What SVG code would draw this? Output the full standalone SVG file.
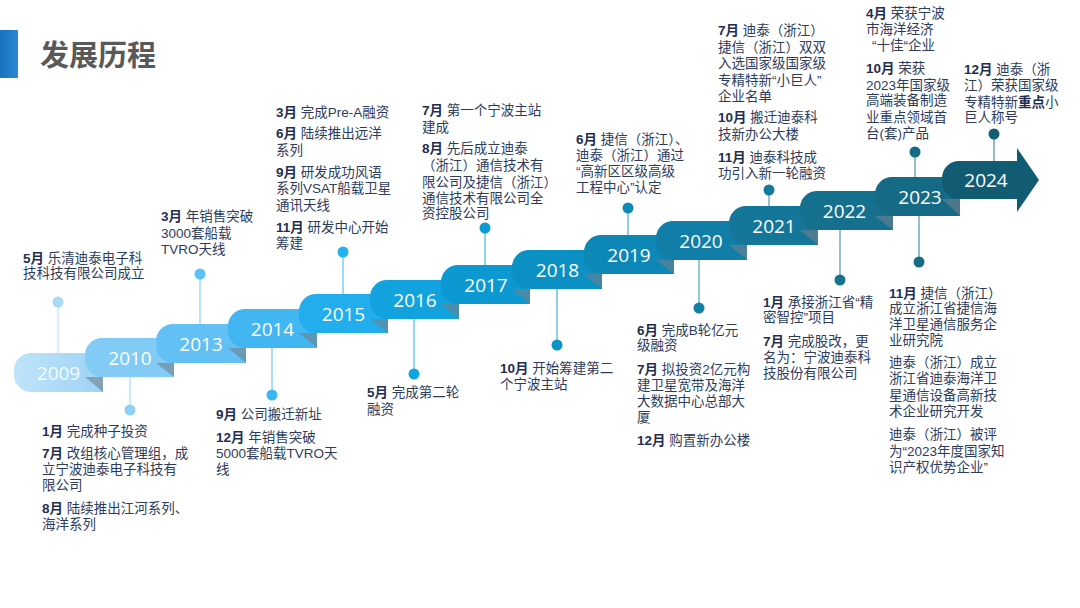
<svg xmlns="http://www.w3.org/2000/svg" width="1080" height="608" viewBox="0 0 1080 608">
<defs>
<style>
.t{font-family:"Liberation Sans","Noto Sans CJK SC",sans-serif;font-size:13.5px;fill:#2e3c5c}
.b{font-weight:bold;fill:#1f2e50}
.yr{font-family:"Open Sans","Noto Sans",sans-serif;font-size:19px;fill:#ffffff;text-anchor:middle}
.fold{fill:#6f818e;fill-opacity:0.6}
.ln{stroke-width:1.5;fill:none;stroke-opacity:0.6}
</style>
<linearGradient id="bar" x1="0" y1="0" x2="1" y2="0">
<stop offset="0" stop-color="#1a72bd"/>
<stop offset="1" stop-color="#2a8ad6"/>
</linearGradient>
<linearGradient id="g09" x1="0" y1="0" x2="1" y2="0">
<stop offset="0" stop-color="#bfe3f9"/>
<stop offset="1" stop-color="#9dd3f5"/>
</linearGradient>
</defs>
<rect width="1080" height="608" fill="#ffffff"/>
<g id="title">
<rect x="0" y="30" width="18" height="48" fill="url(#bar)"/>
<text x="40" y="66" font-family="Liberation Sans,'Noto Sans CJK SC',sans-serif" font-size="29" font-weight="bold" fill="#595959">发展历程</text>
</g>

<g id="connectors">
<line class="ln" x1="58" y1="302" x2="58" y2="353" stroke="#a9d9f7"/><circle cx="58" cy="302" r="5.5" fill="#a9d9f7"/>
<line class="ln" x1="130" y1="377" x2="130" y2="410" stroke="#8fd0f7"/><circle cx="130" cy="410" r="5.5" fill="#8fd0f7"/>
<line class="ln" x1="200" y1="274" x2="200" y2="324" stroke="#5cc1f6"/><circle cx="200" cy="274" r="5.5" fill="#5cc1f6"/>
<line class="ln" x1="272" y1="348" x2="272" y2="395" stroke="#3bb8f3"/><circle cx="272" cy="395" r="5.5" fill="#3bb8f3"/>
<line class="ln" x1="343" y1="252" x2="343" y2="294" stroke="#20b1ef"/><circle cx="343" cy="252" r="5.5" fill="#20b1ef"/>
<line class="ln" x1="414" y1="319" x2="414" y2="374" stroke="#12a6e1"/><circle cx="414" cy="374" r="5.5" fill="#12a6e1"/>
<line class="ln" x1="485" y1="228" x2="485" y2="265" stroke="#0c9cd4"/><circle cx="485" cy="228" r="5.5" fill="#0c9cd4"/>
<line class="ln" x1="557" y1="289" x2="557" y2="345" stroke="#0b93c6"/><circle cx="557" cy="345" r="5.5" fill="#0b93c6"/>
<line class="ln" x1="628" y1="208" x2="628" y2="235" stroke="#0d8ab8"/><circle cx="628" cy="208" r="5.5" fill="#0d8ab8"/>
<line class="ln" x1="699" y1="260" x2="699" y2="308" stroke="#1280a6"/><circle cx="699" cy="308" r="5.5" fill="#1280a6"/>
<line class="ln" x1="769" y1="190" x2="769" y2="206" stroke="#15799a"/><circle cx="769" cy="190" r="5.5" fill="#15799a"/>
<line class="ln" x1="840" y1="230" x2="840" y2="280" stroke="#16728f"/><circle cx="840" cy="280" r="5.5" fill="#16728f"/>
<line class="ln" x1="915" y1="152" x2="915" y2="177" stroke="#166c84"/><circle cx="915" cy="152" r="5.5" fill="#166c84"/>
<line class="ln" x1="919" y1="216" x2="919" y2="262" stroke="#166c84"/><circle cx="919" cy="262" r="5.5" fill="#166c84"/>
<line class="ln" x1="994" y1="134" x2="994" y2="161" stroke="#135e73"/><circle cx="994" cy="134" r="5.5" fill="#135e73"/>
</g>

<g id="y2009"><path d="M31,353H103V392H31A17,17 0 0 1 14,375V370A17,17 0 0 1 31,353Z" fill="url(#g09)"/><polygon class="fold" points="85,377 103,377 103,392"/><text class="yr" x="58.5" y="379.5" fill-opacity="0.9">2009</text></g>
<g id="y2010"><path d="M102,338H174V377H102A17,17 0 0 1 85,360V355A17,17 0 0 1 102,338Z" fill="#82cbf5"/><polygon class="fold" points="156,363 174,363 174,377"/><text class="yr" x="130" y="365">2010</text></g>
<g id="y2013"><path d="M173,324H246V363H173A17,17 0 0 1 156,346V341A17,17 0 0 1 173,324Z" fill="#63c0f4"/><polygon class="fold" points="228,348 246,348 246,363"/><text class="yr" x="201" y="350.5">2013</text></g>
<g id="y2014"><path d="M245,309H317V348H245A17,17 0 0 1 228,331V326A17,17 0 0 1 245,309Z" fill="#42b6f1"/><polygon class="fold" points="299,333 317,333 317,348"/><text class="yr" x="272.5" y="335.5">2014</text></g>
<g id="y2015"><path d="M316,294H388V333H316A17,17 0 0 1 299,316V311A17,17 0 0 1 316,294Z" fill="#22adec"/><polygon class="fold" points="370,319 388,319 388,333"/><text class="yr" x="343.5" y="320.5">2015</text></g>
<g id="y2016"><path d="M387,280H459V319H387A17,17 0 0 1 370,302V297A17,17 0 0 1 387,280Z" fill="#12a3df"/><polygon class="fold" points="441,304 459,304 459,319"/><text class="yr" x="415" y="306.5">2016</text></g>
<g id="y2017"><path d="M458,265H530V304H458A17,17 0 0 1 441,287V282A17,17 0 0 1 458,265Z" fill="#0c99d1"/><polygon class="fold" points="512,289 530,289 530,304"/><text class="yr" x="486" y="291.5">2017</text></g>
<g id="y2018"><path d="M529,250H602V289H529A17,17 0 0 1 512,272V267A17,17 0 0 1 529,250Z" fill="#0b90c3"/><polygon class="fold" points="584,274 602,274 602,289"/><text class="yr" x="557.5" y="276.5">2018</text></g>
<g id="y2019"><path d="M601,235H674V274H601A17,17 0 0 1 584,257V252A17,17 0 0 1 601,235Z" fill="#0d87b5"/><polygon class="fold" points="656,260 674,260 674,274"/><text class="yr" x="629" y="261.5">2019</text></g>
<g id="y2020"><path d="M673,221H747V260H673A17,17 0 0 1 656,243V238A17,17 0 0 1 673,221Z" fill="#107ea6"/><polygon class="fold" points="729,245 747,245 747,260"/><text class="yr" x="701" y="247.5">2020</text></g>
<g id="y2021"><path d="M746,206H818V245H746A17,17 0 0 1 729,228V223A17,17 0 0 1 746,206Z" fill="#14779a"/><polygon class="fold" points="800,230 818,230 818,245"/><text class="yr" x="774" y="232.5">2021</text></g>
<g id="y2022"><path d="M817,191H893V230H817A17,17 0 0 1 800,213V208A17,17 0 0 1 817,191Z" fill="#15708e"/><polygon class="fold" points="875,216 893,216 893,230"/><text class="yr" x="844.5" y="217.5">2022</text></g>
<g id="y2023"><path d="M892,177H960V216H892A17,17 0 0 1 875,199V194A17,17 0 0 1 892,177Z" fill="#156a85"/><polygon class="fold" points="942,199 960,199 960,216"/><text class="yr" x="920" y="203.5">2023</text></g>
<g id="y2024"><path d="M959,161H1017V148L1039,180L1017,212V199H959A17,17 0 0 1 942,182V178A17,17 0 0 1 959,161Z" fill="#125c73"/><text class="yr" x="986" y="187">2024</text></g>

<g id="e2009">
<text class="t" x="23" y="263"><tspan class="b">5月</tspan> 乐清迪泰电子科</text>
<text class="t" x="23" y="278">技科技有限公司成立</text>
</g>
<g id="e2010">
<text class="t" x="42" y="436"><tspan class="b">1月</tspan> 完成种子投资</text>
<text class="t" x="42" y="458"><tspan class="b">7月</tspan> 改组核心管理组，成</text>
<text class="t" x="42" y="474">立宁波迪泰电子科技有</text>
<text class="t" x="42" y="490">限公司</text>
<text class="t" x="42" y="513"><tspan class="b">8月</tspan> 陆续推出江河系列、</text>
<text class="t" x="42" y="529">海洋系列</text>
</g>
<g id="e2013">
<text class="t" x="161" y="221"><tspan class="b">3月</tspan> 年销售突破</text>
<text class="t" x="161" y="238">3000套船载</text>
<text class="t" x="161" y="254">TVRO天线</text>
</g>
<g id="e2014">
<text class="t" x="216" y="419"><tspan class="b">9月</tspan> 公司搬迁新址</text>
<text class="t" x="216" y="442"><tspan class="b">12月</tspan> 年销售突破</text>
<text class="t" x="216" y="458">5000套船载TVRO天</text>
<text class="t" x="216" y="474">线</text>
</g>
<g id="e2015">
<text class="t" x="276" y="117"><tspan class="b">3月</tspan> 完成Pre-A融资</text>
<text class="t" x="276" y="138"><tspan class="b">6月</tspan> 陆续推出远洋</text>
<text class="t" x="276" y="155">系列</text>
<text class="t" x="276" y="177"><tspan class="b">9月</tspan> 研发成功风语</text>
<text class="t" x="276" y="193">系列VSAT船载卫星</text>
<text class="t" x="276" y="210">通讯天线</text>
<text class="t" x="276" y="232"><tspan class="b">11月</tspan> 研发中心开始</text>
<text class="t" x="276" y="248">筹建</text>
</g>
<g id="e2016">
<text class="t" x="367" y="397"><tspan class="b">5月</tspan> 完成第二轮</text>
<text class="t" x="367" y="414">融资</text>
</g>
<g id="e2017">
<text class="t" x="422" y="115"><tspan class="b">7月</tspan> 第一个宁波主站</text>
<text class="t" x="422" y="132">建成</text>
<text class="t" x="422" y="153"><tspan class="b">8月</tspan> 先后成立迪泰</text>
<text class="t" x="422" y="170">（浙江）通信技术有</text>
<text class="t" x="422" y="187">限公司及捷信（浙江）</text>
<text class="t" x="422" y="203">通信技术有限公司全</text>
<text class="t" x="422" y="218">资控股公司</text>
</g>
<g id="e2018">
<text class="t" x="500" y="373"><tspan class="b">10月</tspan> 开始筹建第二</text>
<text class="t" x="500" y="389">个宁波主站</text>
</g>
<g id="e2019">
<text class="t" x="576" y="144"><tspan class="b">6月</tspan> 捷信（浙江）、</text>
<text class="t" x="576" y="160">迪泰（浙江）通过</text>
<text class="t" x="576" y="176">“高新区区级高级</text>
<text class="t" x="576" y="192">工程中心”认定</text>
</g>
<g id="e2020">
<text class="t" x="637" y="335"><tspan class="b">6月</tspan> 完成B轮亿元</text>
<text class="t" x="637" y="350">级融资</text>
<text class="t" x="637" y="374"><tspan class="b">7月</tspan> 拟投资2亿元构</text>
<text class="t" x="637" y="390">建卫星宽带及海洋</text>
<text class="t" x="637" y="406">大数据中心总部大</text>
<text class="t" x="637" y="422">厦</text>
<text class="t" x="637" y="445"><tspan class="b">12月</tspan> 购置新办公楼</text>
</g>
<g id="e2021">
<text class="t" x="718" y="35"><tspan class="b">7月</tspan> 迪泰（浙江）</text>
<text class="t" x="718" y="52">捷信（浙江）双双</text>
<text class="t" x="718" y="68">入选国家级国家级</text>
<text class="t" x="718" y="85">专精特新“小巨人”</text>
<text class="t" x="718" y="101">企业名单</text>
<text class="t" x="718" y="122"><tspan class="b">10月</tspan> 搬迁迪泰科</text>
<text class="t" x="718" y="139">技新办公大楼</text>
<text class="t" x="718" y="162"><tspan class="b">11月</tspan> 迪泰科技成</text>
<text class="t" x="718" y="178">功引入新一轮融资</text>
</g>
<g id="e2022">
<text class="t" x="763" y="307"><tspan class="b">1月</tspan> 承接浙江省“精</text>
<text class="t" x="763" y="322">密智控”项目</text>
<text class="t" x="763" y="346"><tspan class="b">7月</tspan> 完成股改，更</text>
<text class="t" x="763" y="362">名为：宁波迪泰科</text>
<text class="t" x="763" y="378">技股份有限公司</text>
</g>
<g id="e2023a">
<text class="t" x="866" y="18"><tspan class="b">4月</tspan> 荣获宁波</text>
<text class="t" x="866" y="34">市海洋经济</text>
<text class="t" x="872" y="50">“十佳“企业</text>
<text class="t" x="866" y="73"><tspan class="b">10月</tspan> 荣获</text>
<text class="t" x="866" y="90">2023年国家级</text>
<text class="t" x="866" y="105">高端装备制造</text>
<text class="t" x="866" y="122">业重点领域首</text>
<text class="t" x="866" y="138">台(套)产品</text>
</g>
<g id="e2023b">
<text class="t" x="889" y="298"><tspan class="b">11月</tspan> 捷信（浙江）</text>
<text class="t" x="889" y="313">成立浙江省捷信海</text>
<text class="t" x="889" y="329">洋卫星通信服务企</text>
<text class="t" x="889" y="345">业研究院</text>
<text class="t" x="889" y="367">迪泰（浙江）成立</text>
<text class="t" x="889" y="383">浙江省迪泰海洋卫</text>
<text class="t" x="889" y="400">星通信设备高新技</text>
<text class="t" x="889" y="416">术企业研究开发</text>
<text class="t" x="889" y="439">迪泰（浙江）被评</text>
<text class="t" x="889" y="456">为“2023年度国家知</text>
<text class="t" x="889" y="472">识产权优势企业”</text>
</g>
<g id="e2024">
<text class="t" x="964" y="74"><tspan class="b">12月</tspan> 迪泰（浙</text>
<text class="t" x="964" y="90">江）荣获国家级</text>
<text class="t" x="964" y="107">专精特新<tspan class="b">重点</tspan>小</text>
<text class="t" x="964" y="122">巨人称号</text>
</g>
</svg>
